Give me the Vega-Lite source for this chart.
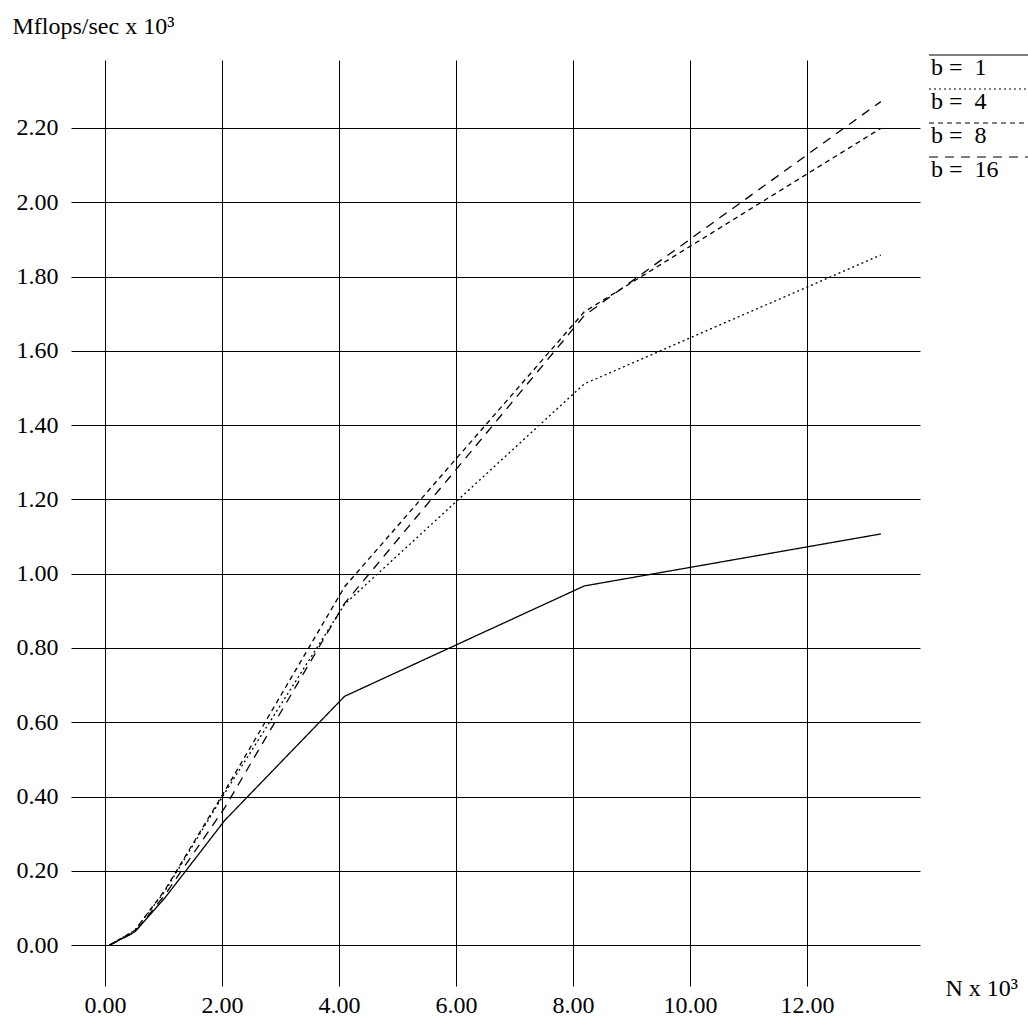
{
  "$schema": "https://vega.github.io/schema/vega-lite/v6.json",
  "width": 849,
  "height": 926,
  "autosize": {"type": "none"},
  "padding": {"left": 71, "top": 60, "right": 108, "bottom": 44},
  "background": "white",
  "config": {
    "font": "Liberation Serif",
    "view": {"stroke": null},
    "axis": {
      "grid": true,
      "gridColor": "black",
      "gridOpacity": 1,
      "gridWidth": 1,
      "domain": false,
      "ticks": false,
      "labelFont": "Liberation Serif",
      "labelFontSize": 24,
      "labelColor": "black",
      "titleFont": "Liberation Serif",
      "titleFontSize": 24,
      "titleFontWeight": "normal",
      "titleColor": "black"
    }
  },
  "data": {
    "values": [
      {"N": 0.08, "mflops": 0.0, "b": "1"},
      {"N": 0.512, "mflops": 0.036, "b": "1"},
      {"N": 1.024, "mflops": 0.127, "b": "1"},
      {"N": 2.048, "mflops": 0.336, "b": "1"},
      {"N": 4.096, "mflops": 0.67, "b": "1"},
      {"N": 8.192, "mflops": 0.967, "b": "1"},
      {"N": 13.26, "mflops": 1.107, "b": "1"},
      {"N": 0.08, "mflops": 0.0, "b": "4"},
      {"N": 0.512, "mflops": 0.04, "b": "4"},
      {"N": 1.024, "mflops": 0.145, "b": "4"},
      {"N": 2.048, "mflops": 0.41, "b": "4"},
      {"N": 4.096, "mflops": 0.918, "b": "4"},
      {"N": 8.192, "mflops": 1.511, "b": "4"},
      {"N": 13.26, "mflops": 1.858, "b": "4"},
      {"N": 0.08, "mflops": 0.0, "b": "8"},
      {"N": 0.512, "mflops": 0.04, "b": "8"},
      {"N": 1.024, "mflops": 0.148, "b": "8"},
      {"N": 2.048, "mflops": 0.415, "b": "8"},
      {"N": 4.096, "mflops": 0.965, "b": "8"},
      {"N": 8.192, "mflops": 1.705, "b": "8"},
      {"N": 13.26, "mflops": 2.199, "b": "8"},
      {"N": 0.08, "mflops": 0.0, "b": "16"},
      {"N": 0.512, "mflops": 0.035, "b": "16"},
      {"N": 1.024, "mflops": 0.135, "b": "16"},
      {"N": 2.048, "mflops": 0.37, "b": "16"},
      {"N": 4.096, "mflops": 0.92, "b": "16"},
      {"N": 8.192, "mflops": 1.695, "b": "16"},
      {"N": 13.26, "mflops": 2.271, "b": "16"}
    ]
  },
  "mark": {"type": "line", "color": "black", "strokeWidth": 1.3},
  "encoding": {
    "x": {
      "field": "N",
      "type": "quantitative",
      "scale": {"domain": [-0.58, 13.93], "nice": false, "zero": false},
      "axis": {
        "values": [0, 2, 4, 6, 8, 10, 12],
        "format": ".2f",
        "labelPadding": 7,
        "title": "N x 10³",
        "titleAlign": "left",
        "titleBaseline": "alphabetic",
        "titleX": 874,
        "titleY": 9
      }
    },
    "y": {
      "field": "mflops",
      "type": "quantitative",
      "scale": {"domain": [-0.11, 2.383], "nice": false, "zero": false},
      "axis": {
        "values": [0, 0.2, 0.4, 0.6, 0.8, 1.0, 1.2, 1.4, 1.6, 1.8, 2.0, 2.2],
        "format": ".2f",
        "labelPadding": 13,
        "title": "Mflops/sec x 10³",
        "titleAngle": 0,
        "titleAlign": "left",
        "titleBaseline": "alphabetic",
        "titleX": -59,
        "titleY": -27
      }
    },
    "strokeDash": {
      "field": "b",
      "type": "nominal",
      "sort": ["1", "4", "8", "16"],
      "scale": {"domain": ["1", "4", "8", "16"], "range": [[1, 0], [2, 3], [5, 4], [9, 7]]},
      "legend": {
        "title": null,
        "orient": "none",
        "legendX": 848,
        "legendY": -4,
        "symbolType": "M-1,-6.5H52",
        "symbolSize": 16,
        "symbolStrokeWidth": 1.2,
        "symbolStrokeColor": "black",
        "symbolFillColor": "transparent",
        "labelFont": "Liberation Serif",
        "labelFontSize": 24,
        "labelColor": "black",
        "labelExpr": "'b = \u00a0' + datum.label",
        "rowPadding": 6,
        "labelOffset": -12
      }
    }
  }
}
